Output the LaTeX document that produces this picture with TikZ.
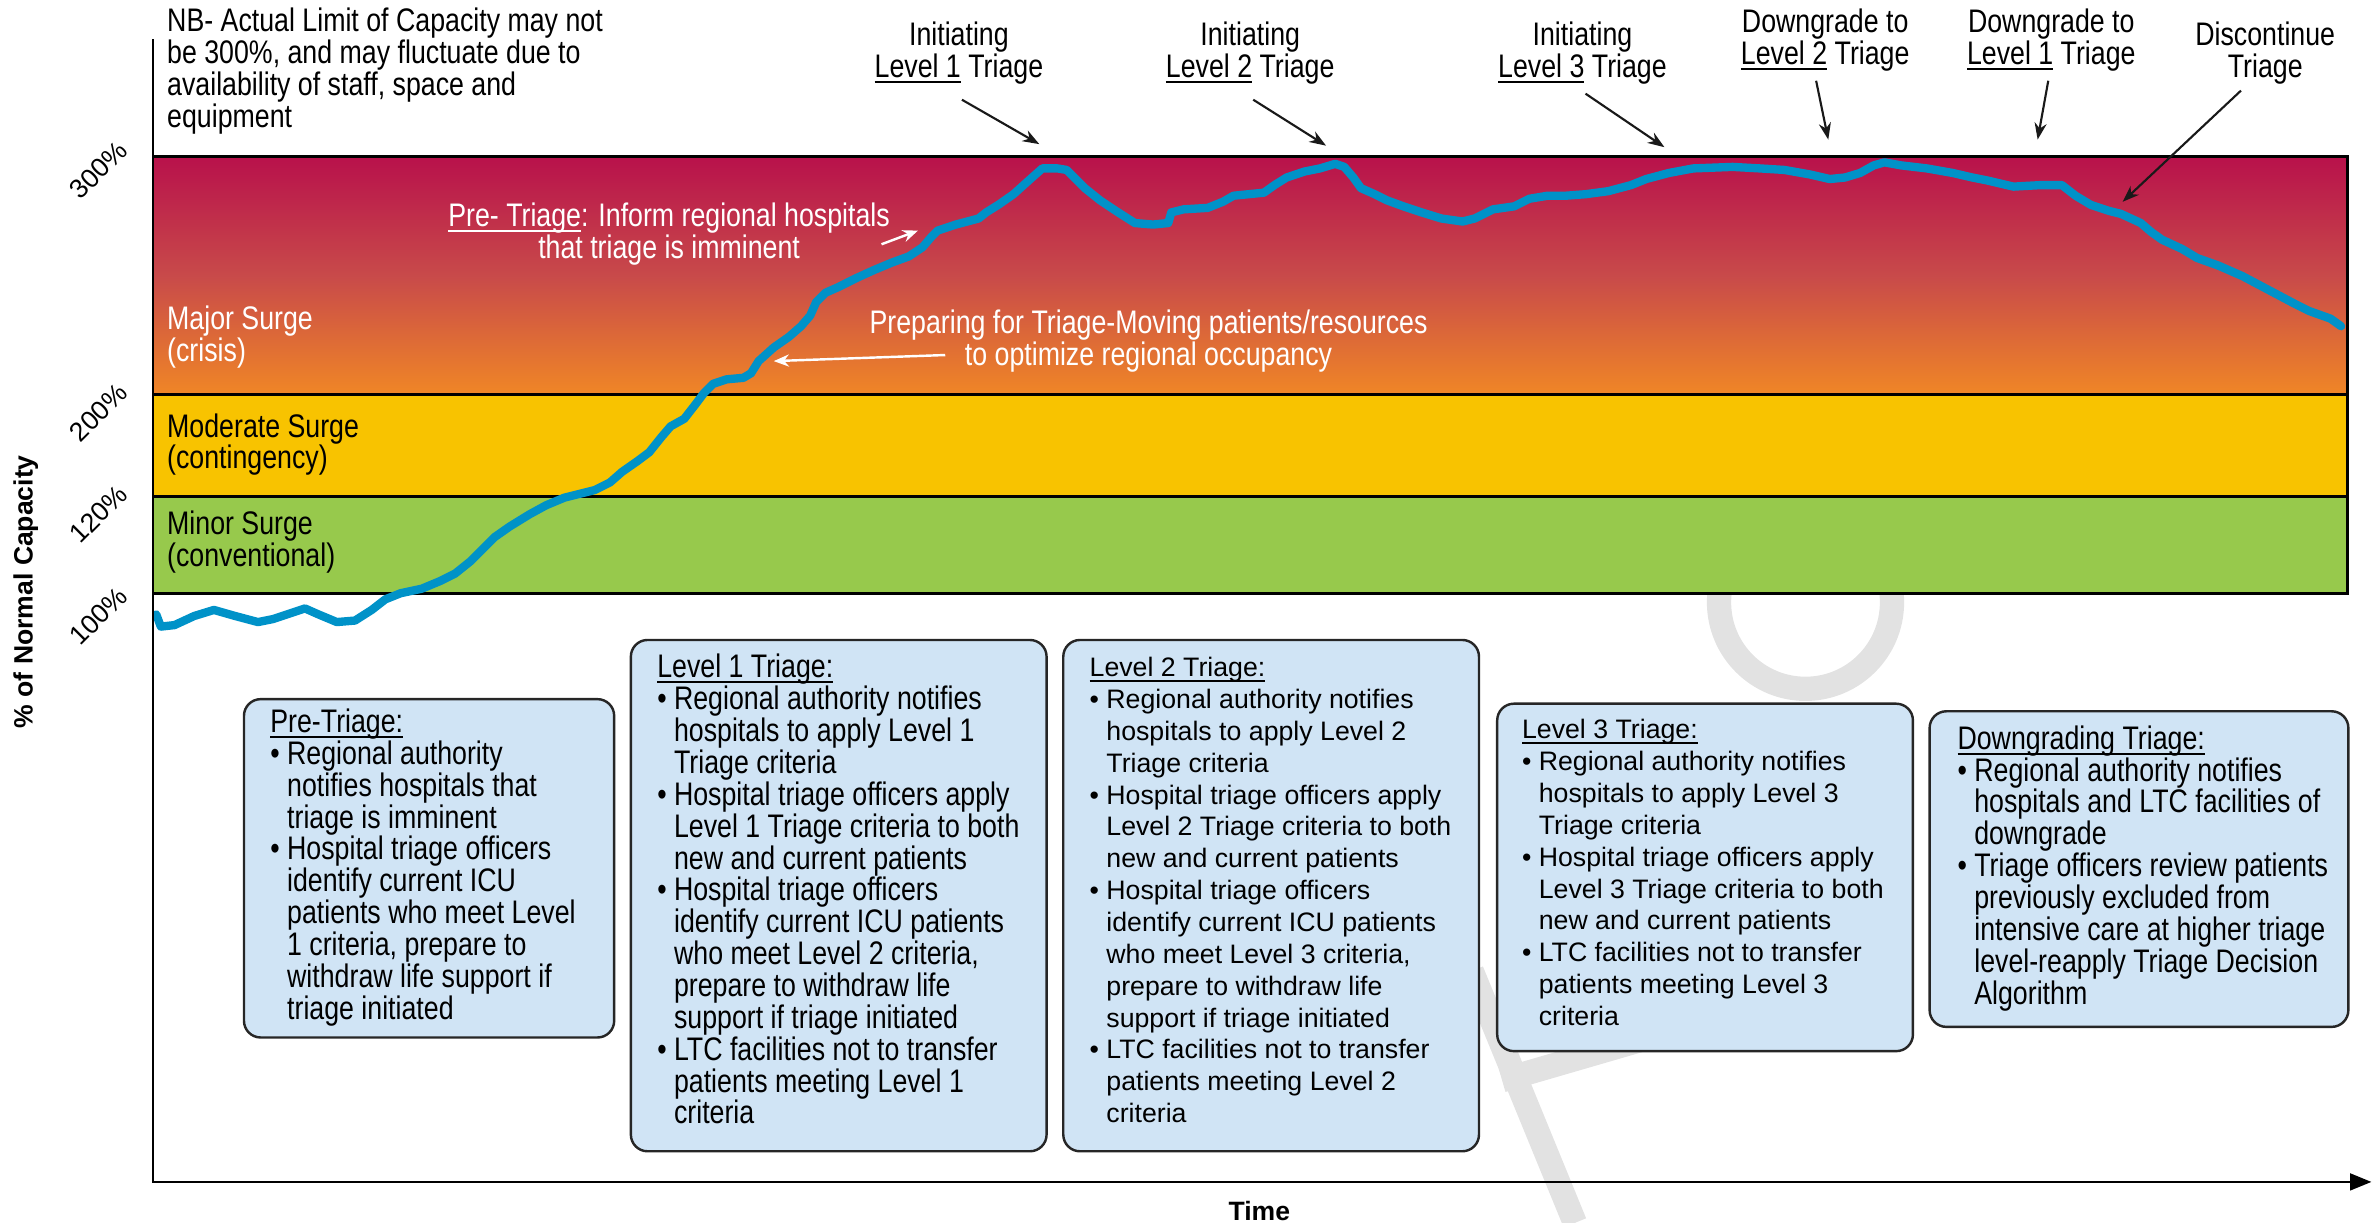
\documentclass[tikz,border=0pt]{standalone}
\usepackage{fontspec}
\setmainfont{Liberation Sans}
\newfontfamily\cnd[FakeStretch=0.82]{Liberation Sans}
\usetikzlibrary{arrows.meta}

\definecolor{crimson}{RGB}{184,17,75}
\definecolor{midred}{RGB}{200,74,74}
\definecolor{surgeorange}{RGB}{240,134,38}
\definecolor{surgeyellow}{RGB}{248,195,0}
\definecolor{surgegreen}{RGB}{151,201,76}
\definecolor{boxblue}{RGB}{208,228,245}
\definecolor{curveblue}{RGB}{0,146,200}
\definecolor{wmgray}{RGB}{226,226,226}

\newcommand\cfont{\cnd\fontsize{21.5}{21}\selectfont}
\newcommand\rfont{\fontsize{17.6}{21}\selectfont}
\newcommand\bfont{\bfseries\fontsize{17.5}{21}\selectfont}
\newcommand\uln[1]{\leavevmode\setbox0\hbox{#1}\rlap{\rule[-3.6pt]{\wd0}{1.3pt}}\box0\relax}
\newcommand\bitem{\leavevmode\textbullet\ }
\newcommand\bcont{\leavevmode\phantom{\textbullet\ }}

\tikzset{
  box/.style={draw=black!85, line width=1.6pt, fill=boxblue, rounded corners=11pt,
    inner sep=0pt, anchor=north west},
  ctxt/.style={anchor=north west, align=left, inner sep=0pt, font=\cfont},
  rtxt/.style={anchor=north west, align=left, inner sep=0pt, font=\rfont},
  toplbl/.style={align=center, inner sep=0pt, font=\cfont},
  bandlbl/.style={anchor=west, align=left, inner sep=0pt, font=\cfont},
  annot/.style={align=center, inner sep=0pt, font=\cfont, text=white},
  ylbl/.style={inner sep=0pt, font=\rfont, rotate=45},
  blkarr/.style={draw=black!90, line width=1.4pt, -{Stealth[length=11pt,width=8pt]}},
  wharr/.style={draw=white, line width=1.6pt, -{Stealth[length=10pt,width=8pt]}},
  bandline/.style={draw=black, line width=2pt},
  axisline/.style={draw=black, line width=1.6pt},
  curve/.style={draw=curveblue, line width=5.5pt, line join=round, line cap=round},
  wm/.style={draw=wmgray, line width=16pt}
}

\begin{document}
\begin{tikzpicture}[x=1pt,y=-1pt]
\useasboundingbox (0,0) rectangle (1568,806);

% faint watermark strokes
\draw[wm] (1190,397) circle (57);
\draw[wm] (970,640) -- (1038,806);
\draw[wm] (990,712) -- (1100,680);

% surge bands
\shade[top color=crimson, bottom color=surgeorange, middle color=midred]
  (101,103) rectangle (1547,260);
\fill[surgeyellow] (101,260) rectangle (1547,327);
\fill[surgegreen] (101,327) rectangle (1547,391);
\draw[bandline] (101,103) -- (1547,103) -- (1547,391) -- (101,391);
\draw[bandline] (101,260) -- (1547,260);
\draw[bandline] (101,327) -- (1547,327);

\node[bandlbl, text=white] (major) at (110,222) {Major Surge\\(crisis)};
\node[bandlbl] (moderate) at (110,293) {Moderate Surge\\(contingency)};
\node[bandlbl] (minor) at (110,357) {Minor Surge\\(conventional)};

% capacity curve
\draw[curve] plot coordinates {
(103,405) (106,413) (115,412) (128,406) (141,402) (155,406) (170,410) (180,408)
(192,404) (201,401) (210,405) (222,410) (234,409) (245,402) (254,395) (264,391)
(278,388) (290,383) (300,378) (310,370) (318,362) (326,354) (336,347) (349,339)
(360,333) (372,328) (384,325) (392,323) (402,318) (410,311) (420,304) (428,298)
(436,288) (442,281) (451,276) (458,267) (464,259) (470,253) (479,250) (490,249)
(495,246) (500,238) (510,229) (520,222) (528,215) (534,208) (538,199) (544,193)
(553,189) (565,183) (576,178) (588,173) (599,169) (608,163) (614,156) (618,152)
(630,148) (645,144) (650,140) (658,135) (668,128) (678,119) (687,111) (697,111)
(703,112) (710,119) (715,124) (725,132) (737,140) (748,147) (760,148) (770,147)
(772,140) (780,138) (796,137) (806,133) (813,129) (823,128) (833,127) (840,122)
(848,117) (860,113) (870,111) (880,108) (886,110) (892,117) (897,124) (906,128)
(914,132) (925,136) (937,140) (950,144) (964,146) (972,144) (984,138) (998,136)
(1008,131) (1020,129) (1032,129) (1045,128) (1060,126) (1075,122) (1085,118)
(1100,114) (1116,111) (1142,110) (1160,111) (1176,112) (1193,115) (1206,118)
(1216,117) (1226,114) (1235,109) (1242,107) (1253,109) (1270,111) (1287,114)
(1300,117) (1310,119) (1327,123) (1345,122) (1359,122) (1368,129) (1378,135)
(1390,139) (1398,141) (1411,147) (1418,153) (1425,158) (1438,164) (1448,170)
(1462,175) (1478,182) (1495,191) (1512,200) (1522,205) (1536,210) (1543,215)};

% notes inside the crisis band
\node[annot] (pretri) at (441,154) {\uln{Pre- Triage}: Inform regional hospitals\\that triage is imminent};
\coordinate (pa) at (581,161);
\coordinate (pb) at (605,152);
\draw[wharr] (pa) -- (pb);
\node[annot] (prep) at (757,225) {Preparing for Triage-Moving patients/resources\\to optimize regional occupancy};
\coordinate (qa) at (623,234);
\coordinate (qb) at (510,238);
\draw[wharr] (qa) -- (qb);

% note on the capacity limit
\node[ctxt] (nb) at (110,5) {NB- Actual Limit of Capacity may not\\be 300\%, and may fluctuate due to\\availability of staff, space and\\equipment};

% event labels above the chart
\node[toplbl] (init1) at (632,35) {Initiating\\\uln{Level 1} Triage};
\node[toplbl] (init2) at (824,35) {Initiating\\\uln{Level 2} Triage};
\node[toplbl] (init3) at (1043,35) {Initiating\\\uln{Level 3} Triage};
\node[toplbl] (down2) at (1203,26.5) {Downgrade to\\\uln{Level 2} Triage};
\node[toplbl] (down1) at (1352,26.5) {Downgrade to\\\uln{Level 1} Triage};
\node[toplbl] (disc) at (1493,35) {Discontinue\\Triage};

\coordinate (t1) at (685,95);
\coordinate (t2) at (874,96);
\coordinate (t3) at (1097,97);
\coordinate (t4) at (1205,92);
\coordinate (t5) at (1343,92);
\coordinate (t6) at (1399,133);
\draw[blkarr] ([shift={(2pt,-10pt)}]init1.south) -- (t1);
\draw[blkarr] ([shift={(2pt,-10pt)}]init2.south) -- (t2);
\draw[blkarr] ([shift={(2pt,-6pt)}]init3.south) -- (t3);
\draw[blkarr] ([shift={(-6pt,-6pt)}]down2.south) -- (t4);
\draw[blkarr] ([shift={(-2pt,-6pt)}]down1.south) -- (t5);
\draw[blkarr] ([shift={(-16pt,-4pt)}]disc.south) -- (t6);

% triage level boxes
\node[box, minimum width=244pt, minimum height=223pt] (pre) at (160,460) {};
\node[ctxt] (pretxt) at ([shift={(18pt,-7pt)}]pre.north west) {\uln{Pre-Triage:}\\
\bitem Regional authority\\
\bcont notifies hospitals that\\
\bcont triage is imminent\\
\bitem Hospital triage officers\\
\bcont identify current ICU\\
\bcont patients who meet Level\\
\bcont 1 criteria, prepare to\\
\bcont withdraw life support if\\
\bcont triage initiated};

\node[box, minimum width=274pt, minimum height=337pt] (lvl1) at (415,421) {};
\node[ctxt] (lvl1txt) at ([shift={(18pt,-10pt)}]lvl1.north west) {\uln{Level 1 Triage:}\\
\bitem Regional authority notifies\\
\bcont hospitals to apply Level 1\\
\bcont Triage criteria\\
\bitem Hospital triage officers apply\\
\bcont Level 1 Triage criteria to both\\
\bcont new and current patients\\
\bitem Hospital triage officers\\
\bcont identify current ICU patients\\
\bcont who meet Level 2 criteria,\\
\bcont prepare to withdraw life\\
\bcont support if triage initiated\\
\bitem LTC facilities not to transfer\\
\bcont patients meeting Level 1\\
\bcont criteria};

\node[box, minimum width=274pt, minimum height=337pt] (lvl2) at (700,421) {};
\node[rtxt] (lvl2txt) at ([shift={(18pt,-12pt)}]lvl2.north west) {\uln{Level 2 Triage:}\\
\bitem Regional authority notifies\\
\bcont hospitals to apply Level 2\\
\bcont Triage criteria\\
\bitem Hospital triage officers apply\\
\bcont Level 2 Triage criteria to both\\
\bcont new and current patients\\
\bitem Hospital triage officers\\
\bcont identify current ICU patients\\
\bcont who meet Level 3 criteria,\\
\bcont prepare to withdraw life\\
\bcont support if triage initiated\\
\bitem LTC facilities not to transfer\\
\bcont patients meeting Level 2\\
\bcont criteria};

\node[box, minimum width=274pt, minimum height=229pt] (lvl3) at (986,463) {};
\node[rtxt] (lvl3txt) at ([shift={(17pt,-11pt)}]lvl3.north west) {\uln{Level 3 Triage:}\\
\bitem Regional authority notifies\\
\bcont hospitals to apply Level 3\\
\bcont Triage criteria\\
\bitem Hospital triage officers apply\\
\bcont Level 3 Triage criteria to both\\
\bcont new and current patients\\
\bitem LTC facilities not to transfer\\
\bcont patients meeting Level 3\\
\bcont criteria};

\node[box, minimum width=276pt, minimum height=208pt] (down) at (1271,468) {};
\node[ctxt] (downtxt) at ([shift={(19pt,-10pt)}]down.north west) {\uln{Downgrading Triage:}\\
\bitem Regional authority notifies\\
\bcont hospitals and LTC facilities of\\
\bcont downgrade\\
\bitem Triage officers review patients\\
\bcont previously excluded from\\
\bcont intensive care at higher triage\\
\bcont level-reapply Triage Decision\\
\bcont Algorithm};

% axes
\coordinate (ytop) at (101,26);
\coordinate (origin) at (101,779);
\coordinate (xend) at (1563,779);
\draw[axisline, -{Triangle[length=14pt,width=11pt]}] (ytop) -- (origin) -- (xend);

\node[ylbl] (y300) at (65,112) {300\%};
\node[ylbl] (y200) at (65,272) {200\%};
\node[ylbl] (y120) at (65,339) {120\%};
\node[ylbl] (y100) at (65,406) {100\%};

\node[font=\bfont, rotate=90, inner sep=0pt] (ytitle) at (17,390) {\% of Normal Capacity};
\node[font=\bfont, inner sep=0pt] (time) at (830,798) {Time};
\end{tikzpicture}
\end{document}
